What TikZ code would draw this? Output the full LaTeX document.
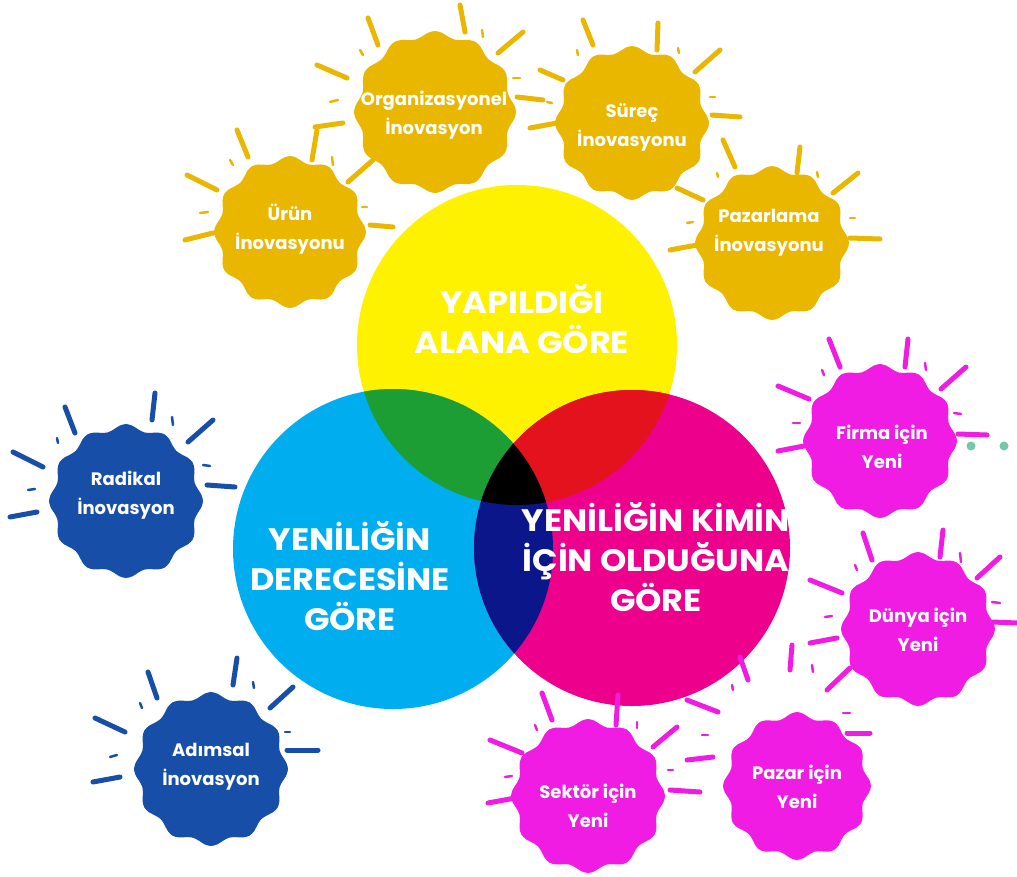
\documentclass[tikz,border=0pt]{standalone}
\usepackage{fontspec}
\setmainfont{Poppins}
\newfontfamily\titlefont{Poppins}[FakeStretch=1.08]
\definecolor{venyellow}{RGB}{255,242,0}
\definecolor{vencyan}{RGB}{0,174,239}
\definecolor{venmagenta}{RGB}{236,0,140}
\definecolor{vengreen}{RGB}{28,158,52}
\definecolor{venred}{RGB}{228,18,28}
\definecolor{venblue}{RGB}{10,22,138}
\definecolor{badgegold}{RGB}{233,183,0}
\definecolor{badgepink}{RGB}{240,28,228}
\definecolor{badgeblue}{RGB}{22,78,168}
\definecolor{dotteal}{RGB}{118,198,168}
\begin{document}
\begin{tikzpicture}[x=1pt,y=-1pt,
    circletext/.style={text=white, align=center, font=\titlefont\bfseries\fontsize{31}{40}\selectfont},
    badgetext/.style={text=white, align=center, font=\bfseries\fontsize{18}{29}\selectfont},
    ray/.style={line width=5pt, line cap=round},
    tick/.style={line width=2.5pt, line cap=round}]
        \useasboundingbox (0,0) rectangle (1017,876);
        \fill[white] (0,0) rectangle (1017,876);
        % the three big circles
        \fill[venyellow] (517,345) circle (160);
        \fill[vencyan] (393,549) circle (160);
        \fill[venmagenta] (632,548) circle (158);
        \begin{scope}
          \clip (517,345) circle (160);
          \fill[vengreen] (393,549) circle (160);
          \fill[venred] (632,548) circle (158);
        \end{scope}
        \begin{scope}
          \clip (393,549) circle (160);
          \fill[venblue] (632,548) circle (158);
        \end{scope}
        \begin{scope}
          \clip (517,345) circle (160);
          \clip (393,549) circle (160);
          \fill[black] (632,548) circle (158);
        \end{scope}
        % wavy badges
        \foreach \cx/\cy/\r/\c in {290/232/73/badgegold, 435/112/78/badgegold, 632/123/74/badgegold,
            772/243/74/badgegold, 880/441/74/badgepink, 918/629/74/badgepink, 797/786/71/badgepink,
            588/796/74/badgepink, 126/501/74/badgeblue, 211/769/74/badgeblue}
          \fill[\c] plot[smooth cycle, domain=0:355, samples=72]
            ({\cx+(\r+3*cos(12*\x))*cos(\x)}, {\cy+(\r+3*cos(12*\x))*sin(\x)});
        % rays
        \foreach \ax/\ay/\bx/\by in {237/130/248/157, 187/175/217/190, 185/240/213/233, 370/225/393/227,
            348/182/373/160, 315/127/343/123, 312/160/317/130, 368/18/378/45, 317/65/347/78,
            460/5/465/32, 498/53/523/32, 517/97/543/100, 530/128/557/123, 583/20/593/45,
            658/23/657/50, 695/72/720/50, 712/115/740/117, 540/70/563/80, 677/188/703/200,
            800/147/797/173, 833/193/858/173, 850/238/880/239, 670/250/697/245, 723/140/735/167}
          \draw[ray, badgegold] (\ax,\ay) -- (\bx,\by);
        \foreach \ax/\ay/\bx/\by in {230/160/233/165, 200/213/208/212, 332/157/333/165, 362/207/367/207,
            360/50/363/55, 330/102/338/100, 482/30/483/37, 513/78/520/78, 547/102/552/103,
            577/50/578/55, 678/48/679/53, 710/97/715/97, 817/172/818/177, 850/218/855/218,
            687/223/693/222, 717/173/718/177}
          \draw[tick, badgegold] (\ax,\ay) -- (\bx,\by);
        \foreach \ax/\ay/\bx/\by in {829/339/840/367, 908/339/905/367, 941/389/966/367, 958/434/987/435,
            778/386/809/399, 778/451/804/446, 863/533/872/560, 943/530/940/557, 977/578/1000/557,
            993/622/1017/623, 810/580/842/593, 810/643/837/638, 792/645/790/670, 827/690/850/668,
            847/733/870/733, 740/657/748/680, 687/700/718/712, 687/760/713/757, 542/693/552/720,
            618/695/616/725, 653/747/677/727, 670/790/700/792, 490/740/522/753, 488/803/515/798}
          \draw[ray, badgepink] (\ax,\ay) -- (\bx,\by);
        \foreach \ax/\ay/\bx/\by in {822/370/824/375, 925/363/926/370, 954/413/961/414, 793/423/800/423,
            855/565/857/570, 960/553/961/562, 992/602/1000/603, 825/617/832/616, 812/665/813/672,
            843/713/850/713, 732/685/733/690, 702/735/708/735, 535/725/537/730, 637/722/637/728,
            668/770/673/770, 505/777/512/776}
          \draw[tick, badgepink] (\ax,\ay) -- (\bx,\by);
        \foreach \ax/\ay/\bx/\by in {65/407/75/433, 155/393/152/420, 188/442/213/420, 207/485/235/487,
            13/452/43/467, 10/517/37/512, 148/672/157/698, 237/658/233/685, 270/708/293/687,
            287/750/318/750, 95/718/125/732, 93/782/120/777}
          \draw[ray, badgeblue] (\ax,\ay) -- (\bx,\by);
        \foreach \ax/\ay/\bx/\by in {57/438/58/443, 172/417/173/425, 203/465/210/466, 28/490/35/489,
            140/703/142/708, 253/682/254/688, 285/732/290/732, 110/757/117/755}
          \draw[tick, badgeblue] (\ax,\ay) -- (\bx,\by);
        \fill[dotteal] (971,446) circle (4.5);
        \fill[dotteal] (1004,446) circle (4.5);
        % circle titles
        \node[circletext] (alan) at (522,319) {YAPILDIĞI\\ALANA GÖRE};
        \node[circletext] (derece) at (350,576) {YENİLİĞİN\\DERECESİNE\\GÖRE};
        \node[circletext] (kimin) at (656,557) {YENİLİĞİN KİMİN\\İÇİN OLDUĞUNA\\GÖRE};
        % badge texts
        \node[badgetext] (urun) at (290,229) {Ürün\\İnovasyonu};
        \node[badgetext] (organizasyonel) at (434,115) {Organizasyonel\\İnovasyon};
        \node[badgetext] (surec) at (632,127) {Süreç\\İnovasyonu};
        \node[badgetext] (pazarlama) at (769,233) {Pazarlama\\İnovasyonu};
        \node[badgetext] (firma) at (882,447) {Firma için\\Yeni};
        \node[badgetext] (dunya) at (918,630) {Dünya için\\Yeni};
        \node[badgetext] (pazar) at (797,787) {Pazar için\\Yeni};
        \node[badgetext] (sektor) at (588,806) {Sektör için\\Yeni};
        \node[badgetext] (radikal) at (126,495) {Radikal\\İnovasyon};
        \node[badgetext] (adimsal) at (211,767) {Adımsal\\İnovasyon};
      \end{tikzpicture}
\end{document}
